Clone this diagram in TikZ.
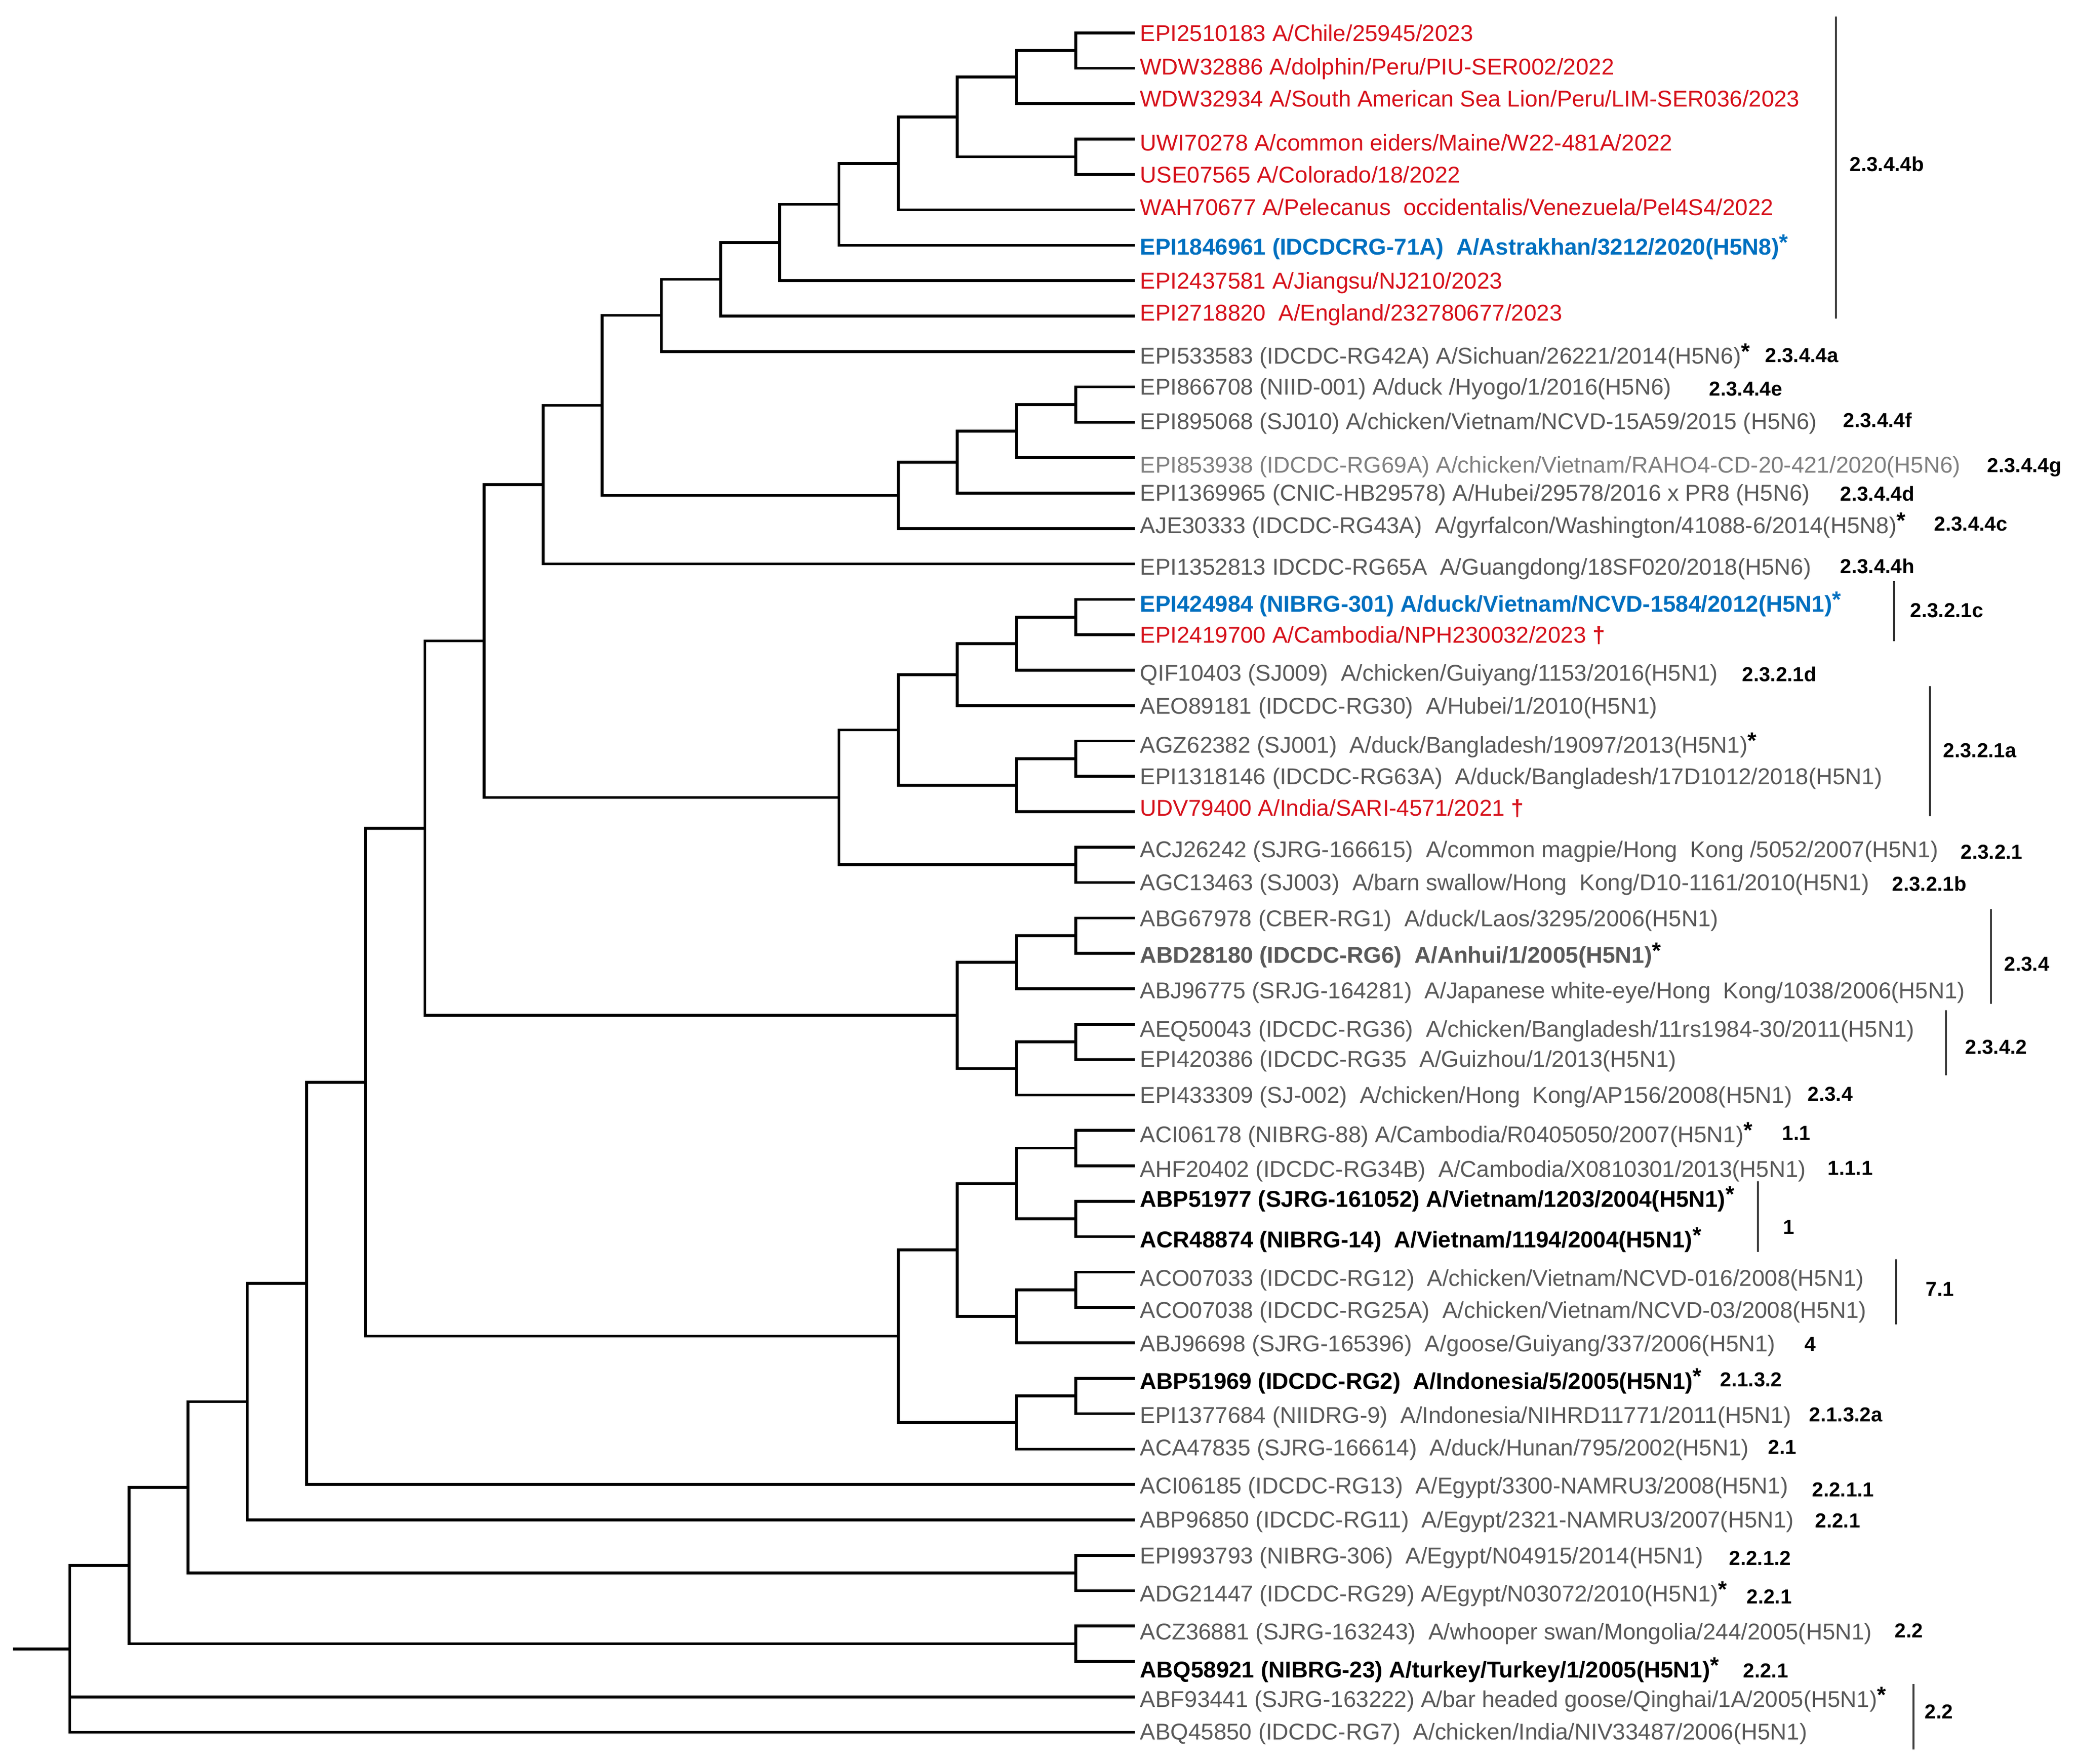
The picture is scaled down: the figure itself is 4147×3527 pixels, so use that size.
\documentclass[tikz,border=0pt]{standalone}
\usepackage{fontspec}
\setmainfont{Liberation Sans}
\usetikzlibrary{calc}
\definecolor{tred}{RGB}{214,16,26}
\definecolor{tblue}{RGB}{0,112,192}
\definecolor{tgray}{RGB}{89,89,89}
\definecolor{tlgray}{RGB}{128,128,128}
\newcommand{\astk}[1][black]{{\color{#1}\bfseries\raisebox{.2em}{*}}}
\newcommand{\dgr}{~{\bfseries\color{tred}†}}
\newcommand{\jn}[4]{%
  \path (#3) -- (#4) coordinate[pos=0.5] (#1m);
  \coordinate (#1) at (L#2 |- #1m);
  \draw[br] (#3) -- (#3 -| #1) -- (#4 -| #1) -- (#4);}
\begin{document}
\begin{tikzpicture}[x=0.01cm,y=-0.01cm,
  br/.style={line width=1.6pt, line join=miter},
  nm/.style={anchor=base west, inner sep=0pt, yshift=-4.65pt, font=\fontsize{13}{15}\selectfont, text=tgray},
  nmred/.style={nm, text=tred},
  nmblue/.style={nm, text=tblue, font=\fontsize{13}{15}\selectfont\bfseries},
  nmbold/.style={nm, text=black, font=\fontsize{13}{15}\selectfont\bfseries},
  nmgbold/.style={nm, font=\fontsize{13}{15}\selectfont\bfseries},
  cl/.style={anchor=base west, inner sep=0pt, yshift=-4.1pt, font=\fontsize{11.5}{13}\selectfont\bfseries, text=black},
  bar/.style={line width=0.9pt, draw=black!75}]
\useasboundingbox (0,0) rectangle (4147,3527);
\foreach \k in {1,...,18} \coordinate (L\k) at ({2269-118.3*\k},0);
\foreach \i in {1,...,49} \coordinate (l\i) at (2269,{65.7+70.79*(\i-1)});
% tree
\jn{n1}{1}{l1}{l2}
\jn{n2}{2}{n1}{l3}
\jn{n3}{1}{l4}{l5}
\jn{n4}{3}{n2}{n3}
\jn{n5}{4}{n4}{l6}
\jn{n6}{5}{n5}{l7}
\jn{n7}{6}{n6}{l8}
\jn{n8}{7}{n7}{l9}
\jn{n9}{8}{n8}{l10}
\jn{n10}{1}{l11}{l12}
\jn{n11}{2}{n10}{l13}
\jn{n12}{3}{n11}{l14}
\jn{n13}{4}{n12}{l15}
\jn{n14}{9}{n9}{n13}
\jn{n15}{10}{n14}{l16}
\jn{n16}{1}{l17}{l18}
\jn{n17}{2}{n16}{l19}
\jn{n18}{3}{n17}{l20}
\jn{n19}{1}{l21}{l22}
\jn{n20}{2}{n19}{l23}
\jn{n21}{4}{n18}{n20}
\jn{n22}{1}{l24}{l25}
\jn{n23}{5}{n21}{n22}
\jn{n24}{11}{n15}{n23}
\jn{n25}{1}{l26}{l27}
\jn{n26}{2}{n25}{l28}
\jn{n27}{1}{l29}{l30}
\jn{n28}{2}{n27}{l31}
\jn{n29}{3}{n26}{n28}
\jn{n30}{12}{n24}{n29}
\jn{n31}{1}{l32}{l33}
\jn{n32}{1}{l34}{l35}
\jn{n33}{2}{n31}{n32}
\jn{n34}{1}{l36}{l37}
\jn{n35}{2}{n34}{l38}
\jn{n36}{3}{n33}{n35}
\jn{n37}{1}{l39}{l40}
\jn{n38}{2}{n37}{l41}
\jn{n39}{4}{n36}{n38}
\jn{n40}{13}{n30}{n39}
\jn{n41}{14}{n40}{l42}
\jn{n42}{15}{n41}{l43}
\jn{n43}{1}{l44}{l45}
\jn{n44}{16}{n42}{n43}
\jn{n45}{1}{l46}{l47}
\jn{n46}{17}{n44}{n45}
\jn{root}{18}{n46}{l49}
\draw[br] (l48 -| root) -- (l48);
\coordinate (stub) at (26,0);
\draw[br] (root) -- (root -| stub);
% leaf labels
\node[nmred] (t1) at ($(l1)+(10,0)$) {EPI2510183 A/Chile/25945/2023};
\node[nmred] (t2) at ($(l2)+(10,-3)$) {WDW32886 A/dolphin/Peru/PIU-SER002/2022};
\node[nmred] (t3) at ($(l3)+(10,-10)$) {WDW32934 A/South American Sea Lion/Peru/LIM-SER036/2023};
\node[nmred] (t4) at ($(l4)+(10,7)$) {UWI70278 A/common eiders/Maine/W22-481A/2022};
\node[nmred] (t5) at ($(l5)+(10,0)$) {USE07565 A/Colorado/18/2022};
\node[nmred] (t6) at ($(l6)+(10,-6)$) {WAH70677 A/Pelecanus~ occidentalis/Venezuela/Pel4S4/2022};
\node[nmblue] (t7) at ($(l7)+(10,3)$) {EPI1846961 (IDCDCRG-71A)~ A/Astrakhan/3212/2020(H5N8)\astk[tblue]};
\node[nmred] (t8) at ($(l8)+(10,0)$) {EPI2437581 A/Jiangsu/NJ210/2023};
\node[nmred] (t9) at ($(l9)+(10,-7)$) {EPI2718820~ A/England/232780677/2023};
\node[nm] (t10) at ($(l10)+(10,8)$) {EPI533583 (IDCDC-RG42A) A/Sichuan/26221/2014(H5N6)\astk};
\node[nm] (t11) at ($(l11)+(10,0)$) {EPI866708 (NIID-001) A/duck /Hyogo/1/2016(H5N6)};
\node[nm] (t12) at ($(l12)+(10,-2)$) {EPI895068 (SJ010) A/chicken/Vietnam/NCVD-15A59/2015 (H5N6)};
\node[nm, text=tlgray] (t13) at ($(l13)+(10,14)$) {EPI853938 (IDCDC-RG69A) A/chicken/Vietnam/RAHO4-CD-20-421/2020(H5N6)};
\node[nm] (t14) at ($(l14)+(10,-1)$) {EPI1369965 (CNIC-HB29578) A/Hubei/29578/2016 x PR8 (H5N6)};
\node[nm] (t15) at ($(l15)+(10,-7)$) {AJE30333 (IDCDC-RG43A)~ A/gyrfalcon/Washington/41088-6/2014(H5N8)\astk};
\node[nm] (t16) at ($(l16)+(10,6)$) {EPI1352813 IDCDC-RG65A~ A/Guangdong/18SF020/2018(H5N6)};
\node[nmblue] (t17) at ($(l17)+(10,9)$) {EPI424984 (NIBRG-301) A/duck/Vietnam/NCVD-1584/2012(H5N1)\astk[tblue]};
\node[nmred] (t18) at ($(l18)+(10,0)$) {EPI2419700 A/Cambodia/NPH230032/2023\dgr};
\node[nm] (t19) at ($(l19)+(10,5)$) {QIF10403 (SJ009)~ A/chicken/Guiyang/1153/2016(H5N1)};
\node[nm] (t20) at ($(l20)+(10,0)$) {AEO89181 (IDCDC-RG30)~ A/Hubei/1/2010(H5N1)};
\node[nm] (t21) at ($(l21)+(10,8)$) {AGZ62382 (SJ001)~ A/duck/Bangladesh/19097/2013(H5N1)\astk};
\node[nm] (t22) at ($(l22)+(10,0)$) {EPI1318146 (IDCDC-RG63A)~ A/duck/Bangladesh/17D1012/2018(H5N1)};
\node[nmred] (t23) at ($(l23)+(10,-8)$) {UDV79400 A/India/SARI-4571/2021\dgr};
\node[nm] (t24) at ($(l24)+(10,4)$) {ACJ26242 (SJRG-166615)~ A/common magpie/Hong~ Kong /5052/2007(H5N1)};
\node[nm] (t25) at ($(l25)+(10,-1)$) {AGC13463 (SJ003)~ A/barn swallow/Hong~ Kong/D10-1161/2010(H5N1)};
\node[nm] (t26) at ($(l26)+(10,1)$) {ABG67978 (CBER-RG1)~ A/duck/Laos/3295/2006(H5N1)};
\node[nmgbold] (t27) at ($(l27)+(10,3)$) {ABD28180 (IDCDC-RG6)~ A/Anhui/1/2005(H5N1)\astk};
\node[nm] (t28) at ($(l28)+(10,3)$) {ABJ96775 (SRJG-164281)~ A/Japanese white-eye/Hong~ Kong/1038/2006(H5N1)};
\node[nm] (t29) at ($(l29)+(10,9)$) {AEQ50043 (IDCDC-RG36)~ A/chicken/Bangladesh/11rs1984-30/2011(H5N1)};
\node[nm] (t30) at ($(l30)+(10,-1)$) {EPI420386 (IDCDC-RG35~ A/Guizhou/1/2013(H5N1)};
\node[nm] (t31) at ($(l31)+(10,0)$) {EPI433309 (SJ-002)~ A/chicken/Hong~ Kong/AP156/2008(H5N1)};
\node[nm] (t32) at ($(l32)+(10,8)$) {ACI06178 (NIBRG-88) A/Cambodia/R0405050/2007(H5N1)\astk};
\node[nm] (t33) at ($(l33)+(10,6)$) {AHF20402 (IDCDC-RG34B)~ A/Cambodia/X0810301/2013(H5N1)};
\node[nmbold] (t34) at ($(l34)+(10,-5)$) {ABP51977 (SJRG-161052) A/Vietnam/1203/2004(H5N1)\astk};
\node[nmbold] (t35) at ($(l35)+(10,6)$) {ACR48874 (NIBRG-14)~ A/Vietnam/1194/2004(H5N1)\astk};
\node[nm] (t36) at ($(l36)+(10,12)$) {ACO07033 (IDCDC-RG12)~ A/chicken/Vietnam/NCVD-016/2008(H5N1)};
\node[nm] (t37) at ($(l37)+(10,5)$) {ACO07038 (IDCDC-RG25A)~ A/chicken/Vietnam/NCVD-03/2008(H5N1)};
\node[nm] (t38) at ($(l38)+(10,1)$) {ABJ96698 (SJRG-165396)~ A/goose/Guiyang/337/2006(H5N1)};
\node[nmbold] (t39) at ($(l39)+(10,5)$) {ABP51969 (IDCDC-RG2)~ A/Indonesia/5/2005(H5N1)\astk};
\node[nm] (t40) at ($(l40)+(10,3)$) {EPI1377684 (NIIDRG-9)~ A/Indonesia/NIHRD11771/2011(H5N1)};
\node[nm] (t41) at ($(l41)+(10,-3)$) {ACA47835 (SJRG-166614)~ A/duck/Hunan/795/2002(H5N1)};
\node[nm] (t42) at ($(l42)+(10,2)$) {ACI06185 (IDCDC-RG13)~ A/Egypt/3300-NAMRU3/2008(H5N1)};
\node[nm] (t43) at ($(l43)+(10,-1)$) {ABP96850 (IDCDC-RG11)~ A/Egypt/2321-NAMRU3/2007(H5N1)};
\node[nm] (t44) at ($(l44)+(10,0)$) {EPI993793 (NIBRG-306)~ A/Egypt/N04915/2014(H5N1)};
\node[nm] (t45) at ($(l45)+(10,6)$) {ADG21447 (IDCDC-RG29) A/Egypt/N03072/2010(H5N1)\astk};
\node[nm] (t46) at ($(l46)+(10,11)$) {ACZ36881 (SJRG-163243)~ A/whooper swan/Mongolia/244/2005(H5N1)};
\node[nmbold] (t47) at ($(l47)+(10,16)$) {ABQ58921 (NIBRG-23) A/turkey/Turkey/1/2005(H5N1)\astk};
\node[nm] (t48) at ($(l48)+(10,4)$) {ABF93441 (SJRG-163222) A/bar headed goose/Qinghai/1A/2005(H5N1)\astk};
\node[nm] (t49) at ($(l49)+(10,-2)$) {ABQ45850 (IDCDC-RG7)~ A/chicken/India/NIV33487/2006(H5N1)};
% clade bars
\coordinate (b1a) at (3671,33);   \coordinate (b1b) at (3671,637);
\coordinate (b2a) at (3787,1162); \coordinate (b2b) at (3787,1282);
\coordinate (b3a) at (3859,1372); \coordinate (b3b) at (3859,1632);
\coordinate (b4a) at (3981,1818); \coordinate (b4b) at (3981,2007);
\coordinate (b5a) at (3891,2020); \coordinate (b5b) at (3891,2150);
\coordinate (b6a) at (3515,2362); \coordinate (b6b) at (3515,2503);
\coordinate (b7a) at (3791,2518); \coordinate (b7b) at (3791,2648);
\coordinate (b8a) at (3826,3367); \coordinate (b8b) at (3826,3498);
\foreach \b in {1,...,8} \draw[bar] (b\b a) -- (b\b b);
% clade labels
\node[cl] (c1) at (3698,328) {2.3.4.4b};
\node[cl] (c2) at (3529,710) {2.3.4.4a};
\node[cl] (c3) at (3417,777) {2.3.4.4e};
\node[cl] (c4) at (3685,840) {2.3.4.4f};
\node[cl] (c5) at (3973,930) {2.3.4.4g};
\node[cl] (c6) at (3679,987) {2.3.4.4d};
\node[cl] (c7) at (3867,1047) {2.3.4.4c};
\node[cl] (c8) at (3679,1132) {2.3.4.4h};
\node[cl] (c9) at (3819,1220) {2.3.2.1c};
\node[cl] (c10) at (3483,1348) {2.3.2.1d};
\node[cl] (c11) at (3885,1500) {2.3.2.1a};
\node[cl] (c12) at (3920,1703) {2.3.2.1};
\node[cl] (c13) at (3783,1767) {2.3.2.1b};
\node[cl] (c14) at (4007,1927) {2.3.4};
\node[cl] (c15) at (3929,2093) {2.3.4.2};
\node[cl] (c16) at (3614,2187) {2.3.4};
\node[cl] (c17) at (3563,2265) {1.1};
\node[cl] (c18) at (3654,2335) {1.1.1};
\node[cl] (c19) at (3565,2453) {1};
\node[cl] (c20) at (3850,2577) {7.1};
\node[cl] (c21) at (3608,2687) {4};
\node[cl] (c22) at (3439,2758) {2.1.3.2};
\node[cl] (c23) at (3617,2828) {2.1.3.2a};
\node[cl] (c24) at (3535,2893) {2.1};
\node[cl] (c25) at (3623,2978) {2.2.1.1};
\node[cl] (c26) at (3629,3040) {2.2.1};
\node[cl] (c27) at (3457,3115) {2.2.1.2};
\node[cl] (c28) at (3492,3192) {2.2.1};
\node[cl] (c29) at (3788,3260) {2.2};
\node[cl] (c30) at (3485,3340) {2.2.1};
\node[cl] (c31) at (3848,3422) {2.2};
\end{tikzpicture}
\end{document}
